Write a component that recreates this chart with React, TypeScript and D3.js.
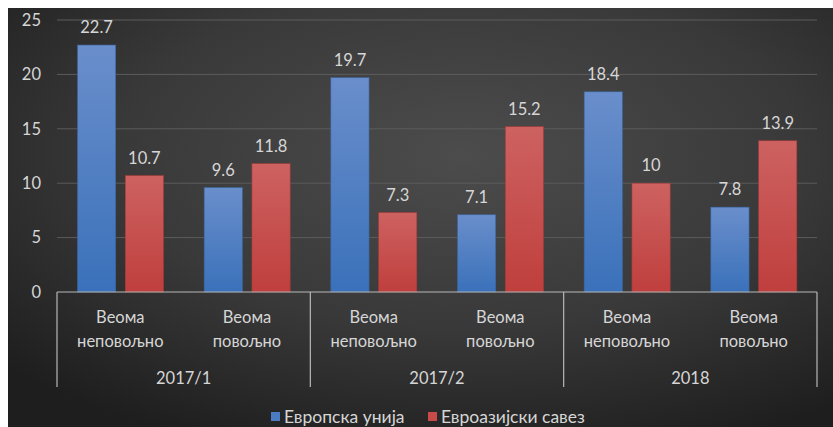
import React from 'react';
import * as d3 from 'd3';

// categories and groups
const categories = ['Веома неповољно', 'Веома повољно', 'Веома неповољно', 'Веома повољно', 'Веома неповољно', 'Веома повољно'];
const groups = ['2017/1', '2017/2', '2018'];
const seriesNames = ['Европска унија', 'Евроазијски савез'];
const euValues = [22.7, 9.6, 19.7, 7.1, 18.4, 7.8];
const eaeuValues = [10.7, 11.8, 7.3, 15.2, 10, 13.9];
const yTicks = [0, 5, 10, 15, 20, 25];

const W = 833;
const H = 427;
const FONT = "Lato, 'Open Sans', 'DejaVu Sans', sans-serif";
const TEXT = '#d6d6d6';

const App = () => {
  const left = 57;
  const right = 817;
  const y = d3.scaleLinear().domain([0, 25]).range([292, 20]);
  const idx = categories.map((_, i) => String(i));
  const x0 = d3.scaleBand<string>().domain(idx).range([left, right]);
  const x1 = d3.scaleBand<string>().domain(['0', '1']).range([20.5, 106.5]).paddingInner(0.2);
  const series = [euValues, eaeuValues];
  const fills = ['url(#gBlue)', 'url(#gRed)'];
  const strokes = ['#3a659f', '#a33a38'];
  const groupW = (right - left) / groups.length;

  return (
    <svg width={W} height={H} style={{ position: 'absolute', left: 0, top: 0 }} fontFamily={FONT}>
      <defs>
        <radialGradient id="bg" cx="55%" cy="35%" r="75%">
          <stop offset="0%" stopColor="#4c4c4c" />
          <stop offset="55%" stopColor="#393939" />
          <stop offset="100%" stopColor="#1e1e1e" />
        </radialGradient>
        <linearGradient id="gBlue" x1="0" y1="0" x2="0" y2="1">
          <stop offset="0%" stopColor="#6a8ecb" />
          <stop offset="100%" stopColor="#3a71ba" />
        </linearGradient>
        <linearGradient id="gRed" x1="0" y1="0" x2="0" y2="1">
          <stop offset="0%" stopColor="#cd6261" />
          <stop offset="100%" stopColor="#bf3f3d" />
        </linearGradient>
      </defs>
      <rect x={8} y={8} width={W - 8} height={H - 8} fill="url(#bg)" />

      {/* gridlines */}
      {yTicks.filter(t => t > 0).map(t => (
        <line key={t} x1={left} x2={right} y1={y(t)} y2={y(t)} stroke="#5c5c5c" strokeWidth={1} />
      ))}
      {yTicks.map(t => (
        <text key={t} x={41} y={y(t)} dy="0.35em" textAnchor="end" fontSize={16.5} fill={TEXT}>{t}</text>
      ))}

      {/* bars */}
      {series.map((vals, s) =>
        vals.map((v, i) => (
          <g key={`${s}-${i}`}>
            <rect
              x={x0(String(i))! + x1(String(s))!}
              y={y(v)}
              width={x1.bandwidth()}
              height={y(0) - y(v)}
              fill={fills[s]}
              stroke={strokes[s]}
              strokeWidth={0.6}
            />
            <text
              x={x0(String(i))! + x1(String(s))! + x1.bandwidth() / 2}
              y={y(v) - 12}
              textAnchor="middle"
              fontSize={16.5}
              fill={TEXT}
            >{v}</text>
          </g>
        ))
      )}

      {/* category axis */}
      <line x1={left} x2={right} y1={y(0)} y2={y(0)} stroke="#b8b8b8" strokeWidth={1.2} />
      {d3.range(groups.length + 1).map(g => (
        <line key={g} x1={left + g * groupW} x2={left + g * groupW} y1={y(0)} y2={387} stroke="#b8b8b8" strokeWidth={1.2} />
      ))}
      {categories.map((c, i) => {
        const cx = x0(String(i))! + x0.bandwidth() / 2;
        const [a, b] = c.split(' ');
        return (
          <g key={i} fontSize={16.5} fill={TEXT} textAnchor="middle">
            <text x={cx} y={317} dy="0.35em">{a}</text>
            <text x={cx} y={341} dy="0.35em">{b}</text>
          </g>
        );
      })}
      {groups.map((g, i) => (
        <text key={g} x={left + (i + 0.5) * groupW} y={378} dy="0.35em" textAnchor="middle" fontSize={16.5} fill={TEXT}>{g}</text>
      ))}

      {/* legend */}
      {seriesNames.map((n, s) => {
        const lx = s === 0 ? 271 : 428;
        return (
          <g key={n}>
            <rect x={lx} y={412} width={9} height={9} fill={s === 0 ? '#4a7cc2' : '#c84b49'} />
            <text x={lx + 13} y={416.5} dy="0.35em" fontSize={17.5} fill={TEXT}>{n}</text>
          </g>
        );
      })}
    </svg>
  );
};

export default App;
